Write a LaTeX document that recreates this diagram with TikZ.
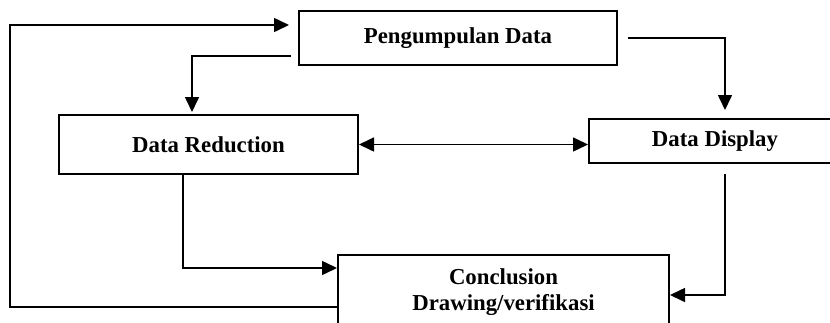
\documentclass[tikz,border=0pt]{standalone}
\usepackage{fontspec}
\setmainfont{Liberation Serif}
\usepackage{tikz}
\usetikzlibrary{arrows.meta,positioning,calc}

\begin{document}
\begin{tikzpicture}[
    x=0.5pt,y=-0.5pt,
    stage/.style={draw,line width=1pt,align=center,inner sep=0pt,
      font=\fontsize{11.4}{13}\selectfont\bfseries},
    arrow/.style={-{Triangle[length=7.5pt,width=7pt]},line width=0.8pt},
    twoway/.style={{Triangle[length=7.5pt,width=7pt]}-{Triangle[length=7.5pt,width=7pt]},line width=0.8pt}
  ]
    \clip (0,0) rectangle (830,322);
    \node[stage,minimum width=159pt,minimum height=27pt] (pd) at (458,38) {Pengumpulan Data};
    \node[stage,minimum width=149.5pt,minimum height=29.5pt] (dr) at (208.5,144.5) {Data Reduction};
    \node[stage,minimum width=126pt,minimum height=22pt] (dd) at (715,141) {Data Display};
    \node[stage,minimum width=165.5pt,minimum height=37pt] (cd) at (503.5,292) {Conclusion\\Drawing/verifikasi};
    \coordinate (loop) at (10,25);
    \draw[arrow,shorten >=4.5pt] ([yshift=-7.5pt]cd.west) -| (loop) -- ([yshift=6.5pt]pd.west);
    \draw[arrow,shorten >=1pt] ([xshift=-3.5pt,yshift=5pt]pd.south west) -| ([xshift=-8.25pt]dr.north);
    \draw[arrow,shorten >=4pt] ([xshift=5pt]pd.east) -| ([xshift=5pt]dd.north);
    \draw[twoway] (dr.east) -- (dr.east -| dd.west);
    \draw[arrow] ([xshift=-12.75pt]dr.south) |- ([yshift=12pt]cd.west);
    \draw[arrow] ([xshift=5pt,yshift=-5pt]dd.south) |- ([yshift=-1.5pt]cd.east);
  \end{tikzpicture}
\end{document}
